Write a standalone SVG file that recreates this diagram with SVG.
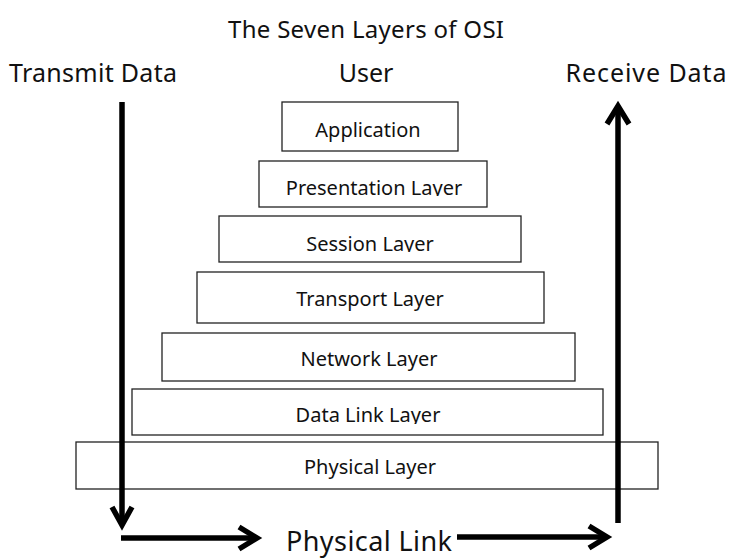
<svg xmlns="http://www.w3.org/2000/svg" width="731" height="559" viewBox="0 0 731 559">
  <style>
    text { font-family: "Noto Sans", "DejaVu Sans", sans-serif; fill: #111; text-anchor: middle; }
    .title { font-size: 24px; }
    .head { font-size: 25px; }
    .link { font-size: 27px; }
    .label { font-size: 20px; }
    .layer rect { fill: #fff; stroke: #222; stroke-width: 1.3; }
    .flow { fill: none; stroke: #000; stroke-width: 5.5; }
    .tip { fill: none; stroke: #000; stroke-width: 5.5; stroke-linejoin: miter; }
  </style>
  <defs>
    <!-- text frames that cut the labels just under the baseline -->
    <clipPath id="clip-presentation"><rect x="259" y="161" width="228" height="35"/></clipPath>
    <clipPath id="clip-session"><rect x="219" y="216" width="302" height="36"/></clipPath>
    <clipPath id="clip-datalink"><rect x="132" y="389" width="471" height="35"/></clipPath>
  </defs>
  <rect width="731" height="559" fill="#fff"/>

  <text class="title" x="366" y="38" textLength="276">The Seven Layers of OSI</text>
  <text class="head" x="93" y="82" textLength="168">Transmit Data</text>
  <text class="head" x="366" y="82">User</text>
  <text class="head" x="646" y="82" textLength="161">Receive Data</text>

  <!-- layer stack, top (narrowest) to bottom (widest) -->
  <g id="application" class="layer">
    <rect x="282" y="102" width="176" height="49"/>
    <text class="label" x="368" y="137">Application</text>
  </g>
  <g id="presentation" class="layer">
    <rect x="259" y="161" width="228" height="46"/>
    <text class="label" x="374" y="195" clip-path="url(#clip-presentation)">Presentation Layer</text>
  </g>
  <g id="session" class="layer">
    <rect x="219" y="216" width="302" height="46"/>
    <text class="label" x="370" y="251" clip-path="url(#clip-session)">Session Layer</text>
  </g>
  <g id="transport" class="layer">
    <rect x="197" y="272" width="347" height="51"/>
    <text class="label" x="370" y="306">Transport Layer</text>
  </g>
  <g id="network" class="layer">
    <rect x="162" y="333" width="413" height="48"/>
    <text class="label" x="369" y="366">Network Layer</text>
  </g>
  <g id="datalink" class="layer">
    <rect x="132" y="389" width="471" height="46"/>
    <text class="label" x="368" y="422" clip-path="url(#clip-datalink)">Data Link Layer</text>
  </g>
  <g id="physical" class="layer">
    <rect x="76" y="442" width="582" height="47"/>
    <text class="label" x="370" y="474">Physical Layer</text>
  </g>

  <text class="link" x="369" y="551" textLength="166">Physical Link</text>

  <!-- data flow: down the sender side, across the link, up the receiver side -->
  <g id="connectors">
    <path class="flow" d="M122,102 V524"/>
    <path class="tip" d="M112,507 L122,525 L132,507"/>
    <path class="flow" d="M121,538 H255"/>
    <path class="tip" d="M239,527 L257,538 L239,549"/>
    <path class="flow" d="M457,537 H606"/>
    <path class="tip" d="M589,526 L607,537 L589,548"/>
    <path class="flow" d="M618,523 V107"/>
    <path class="tip" d="M607,124 L618,106 L629,124"/>
  </g>
</svg>
